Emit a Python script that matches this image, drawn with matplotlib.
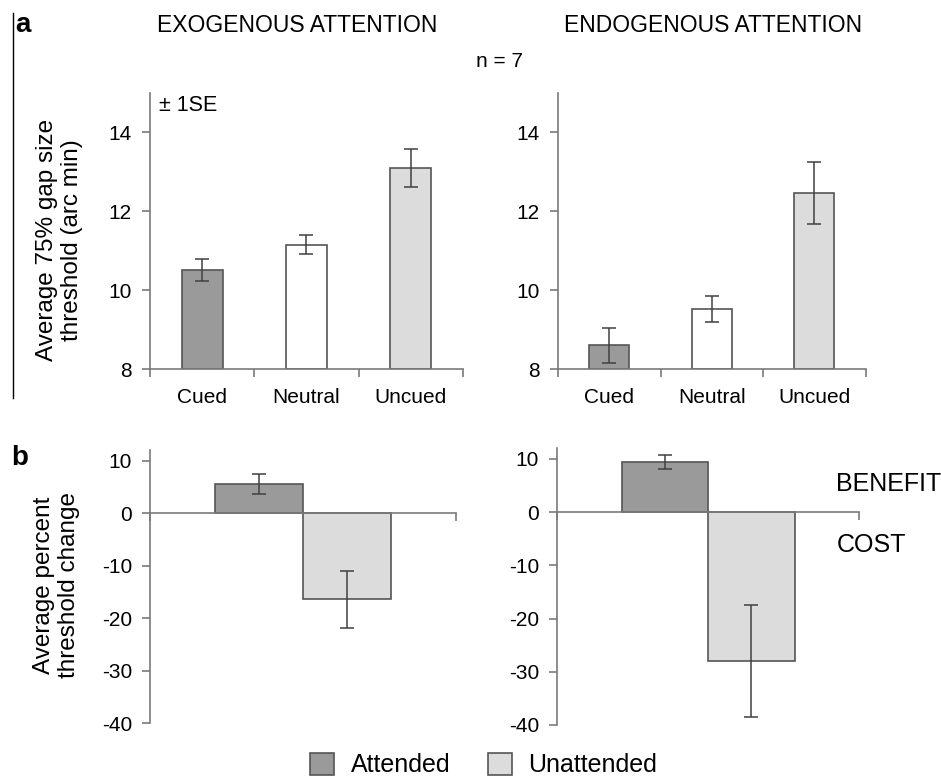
import matplotlib
matplotlib.use('Agg')
import matplotlib.pyplot as plt
from matplotlib.patches import Patch
from matplotlib.lines import Line2D

plt.rcParams['font.family'] = ['Liberation Sans', 'DejaVu Sans']

# panel a: thresholds (arc min)
conditions = ['Cued', 'Neutral', 'Uncued']
exo_thresh = [10.5, 11.15, 13.1]
exo_se = [0.28, 0.25, 0.48]
endo_thresh = [8.6, 9.52, 12.46]
endo_se = [0.45, 0.33, 0.78]

# panel b: percent threshold change
groups = ['Attended', 'Unattended']
exo_change = [5.6, -16.4]
exo_change_se = [1.9, 5.4]
endo_change = [9.4, -28.0]
endo_change_se = [1.25, 10.5]

bar_colors = ['#9a9a9a', '#ffffff', '#dcdcdc']
change_colors = ['#9a9a9a', '#dcdcdc']
edge = '#555555'
axcol = '#7a7a7a'
fs = 15

fig = plt.figure(figsize=(9.41, 7.84), dpi=100)


def style(ax):
    for s in ['top', 'right']:
        ax.spines[s].set_visible(False)
    for s in ['left', 'bottom']:
        ax.spines[s].set_color(axcol)
        ax.spines[s].set_linewidth(1.2)
    ax.tick_params(axis='both', colors=axcol, labelcolor='black', labelsize=fs,
                   direction='out', length=6, width=1.2)
    ax.tick_params(axis='y', pad=7)


def top_panel(rect, vals, errs):
    ax = fig.add_axes(rect)
    x = range(len(vals))
    ax.bar(x, [v - 8 for v in vals], bottom=8, width=0.39, color=bar_colors,
           edgecolor=edge, linewidth=1.2, zorder=2)
    ax.errorbar(x, vals, yerr=errs, fmt='none', ecolor='#404040', elinewidth=1.1,
                capsize=5, capthick=1.1, zorder=3)
    ax.set_xlim(-0.5, 2.5)
    ax.set_ylim(8, 15)
    ax.set_yticks([8, 10, 12, 14])
    ax.set_xticks([-0.5, 0.5, 1.5, 2.5])
    ax.set_xticklabels([])
    ax.set_xticks(list(x), minor=True)
    ax.set_xticklabels(conditions, minor=True)
    style(ax)
    ax.tick_params(axis='x', which='minor', length=0, pad=14, labelsize=fs)
    return ax


def bottom_panel(rect, vals, errs):
    ax = fig.add_axes(rect)
    pos = [0.357, 0.643]
    ax.bar(pos, vals, width=0.287, color=change_colors, edgecolor=edge,
           linewidth=1.2, zorder=2)
    ax.errorbar(pos, vals, yerr=errs, fmt='none', ecolor='#404040', elinewidth=1.1,
                capsize=5, capthick=1.1, zorder=3)
    ax.set_xlim(0, 1)
    ax.set_ylim(-40, 12)
    ax.set_yticks([10, 0, -10, -20, -30, -40])
    ax.set_yticklabels(['10', '0', '-10', '-20', '-30', '-40'])
    ax.spines['bottom'].set_position(('data', 0))
    ax.set_xticks([0, 1])
    ax.set_xticklabels([])
    style(ax)
    return ax


ax1 = top_panel([0.1594, 0.5293, 0.3326, 0.3527], exo_thresh, exo_se)
ax2 = top_panel([0.593, 0.5293, 0.327, 0.3527], endo_thresh, endo_se)
ax1.set_ylabel('Average 75% gap size\nthreshold (arc min)', fontsize=17.5)
ax1.yaxis.set_label_coords(-0.214, 0.467)
ax1.text(0.03, 0.99, '± 1SE', transform=ax1.transAxes, fontsize=15.5, va='top')

ax3 = bottom_panel([0.1594, 0.0778, 0.325, 0.348], exo_change, exo_change_se)
ax4 = bottom_panel([0.592, 0.0753, 0.321, 0.353], endo_change, endo_change_se)
ax3.set_ylabel('Average percent\nthreshold change', fontsize=17.5)
ax3.yaxis.set_label_coords(-0.229, 0.505)

fig.text(0.316, 0.968, 'EXOGENOUS ATTENTION', ha='center', va='center', fontsize=16.5)
fig.text(0.758, 0.968, 'ENDOGENOUS ATTENTION', ha='center', va='center', fontsize=16.5)
fig.text(0.531, 0.921, 'n = 7', ha='center', va='center', fontsize=15)
fig.text(0.016, 0.968, 'a', fontsize=20, fontweight='bold', va='center')
fig.text(0.012, 0.416, 'b', fontsize=20, fontweight='bold', va='center')
fig.text(0.888, 0.383, 'BENEFIT', fontsize=18, va='center')
fig.text(0.889, 0.305, 'COST', fontsize=18, va='center')
fig.add_artist(Line2D([0.0135, 0.0135], [0.492, 0.984], color='black', lw=1.0))

handles = [Patch(facecolor=c, edgecolor=edge, linewidth=1.2) for c in change_colors]
fig.legend(handles, groups, loc='center', bbox_to_anchor=(0.514, 0.024), ncol=2,
           frameon=False, fontsize=18, handlelength=0.96, handleheight=0.96,
           columnspacing=1.48, handletextpad=0.68)

fig.savefig('out.png', dpi=100)
